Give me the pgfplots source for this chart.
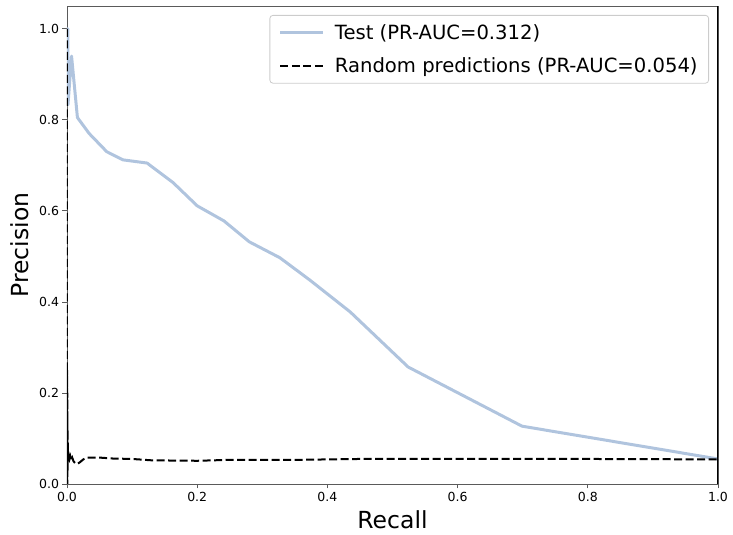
\documentclass[border=0pt]{standalone}
\usepackage{fontspec}
\setmainfont{DejaVu Sans}
\usepackage{pgfplots}
\pgfplotsset{compat=1.18}

\definecolor{testblue}{RGB}{176,196,222}
\definecolor{spinegray}{RGB}{90,90,90}

\begin{document}
\begin{tikzpicture}
\begin{axis}[
  scale only axis,
  width=651pt, height=478pt,
  xmin=0, xmax=1, ymin=0, ymax=1.05,
  xtick={0,0.2,0.4,0.6,0.8,1.0},
  ytick={0,0.2,0.4,0.6,0.8,1.0},
  xticklabel style={/pgf/number format/.cd,fixed,fixed zerofill,precision=1},
  yticklabel style={/pgf/number format/.cd,fixed,fixed zerofill,precision=1},
  /pgf/number format/assume math mode=true,
  tick label style={font=\fontsize{12.5}{15}\selectfont},
  xtick pos=bottom, ytick pos=left,
  tick align=outside,
  major tick length=4.5pt,
  tick style={spinegray, line width=0.8pt},
  axis line style={spinegray, line width=0.8pt},
  xlabel={Recall}, ylabel={Precision},
  label style={font=\fontsize{23.5}{28}\selectfont},
  xlabel style={yshift=-2pt},
  ylabel style={yshift=3pt},
  legend cell align=left,
  legend style={at={(1,1)}, anchor=north east, xshift=-9pt, yshift=-9pt,
    draw=black!20, rounded corners=3pt, line width=0.8pt,
    font=\fontsize{19.6}{23}\selectfont,
    row sep=13pt, column sep=8pt, inner xsep=9pt, inner ysep=7pt},
  legend image code/.code={\draw[#1] (0pt,0pt) -- (43pt,0pt);},
]
\addplot[testblue, line width=3pt, line join=round] coordinates {
  (0.0,1.0) (0.0015,1.0) (0.0015,0.833) (0.007,0.94) (0.016,0.805)
  (0.034,0.77) (0.061,0.73) (0.086,0.712) (0.123,0.705) (0.163,0.662)
  (0.2,0.611) (0.241,0.578) (0.28,0.532) (0.327,0.497) (0.373,0.448)
  (0.435,0.378) (0.524,0.257) (0.699,0.127) (1.0,0.055)
};
\addlegendentry{Test (PR-AUC=0.312)}

\addplot[black, line width=2pt, dash pattern=on 8pt off 3.5pt] coordinates {
  (0.0,1.0) (0.0,0.0) (0.0003,0.25) (0.0004,0.0) (0.0005,0.2)
  (0.0006,0.02) (0.0007,0.15) (0.0008,0.03) (0.0009,0.12) (0.0010,0.04)
  (0.0012,0.09) (0.0015,0.065) (0.002,0.05) (0.003,0.062) (0.004,0.055)
  (0.005,0.06) (0.006,0.052) (0.008,0.058) (0.010,0.05) (0.013,0.045)
  (0.016,0.044) (0.02,0.048) (0.025,0.054) (0.03,0.058) (0.04,0.058)
  (0.05,0.058) (0.07,0.056) (0.1,0.055) (0.13,0.052) (0.2,0.051)
  (0.25,0.053) (0.35,0.053) (0.45,0.055) (0.6,0.055) (0.8,0.055)
  (1.0,0.054)
};
\addlegendentry{Random predictions (PR-AUC=0.054)}

\coordinate (sw) at (rel axis cs:0,0);
\coordinate (ne) at (rel axis cs:1,1);
\draw[black, line width=1.8pt] (rel axis cs:1,0) -- (rel axis cs:1,1);
\end{axis}
\pgfresetboundingbox
\path ([shift={(-67pt,-51pt)}]sw) rectangle ([shift={(15pt,6pt)}]ne);
\end{tikzpicture}
\end{document}
